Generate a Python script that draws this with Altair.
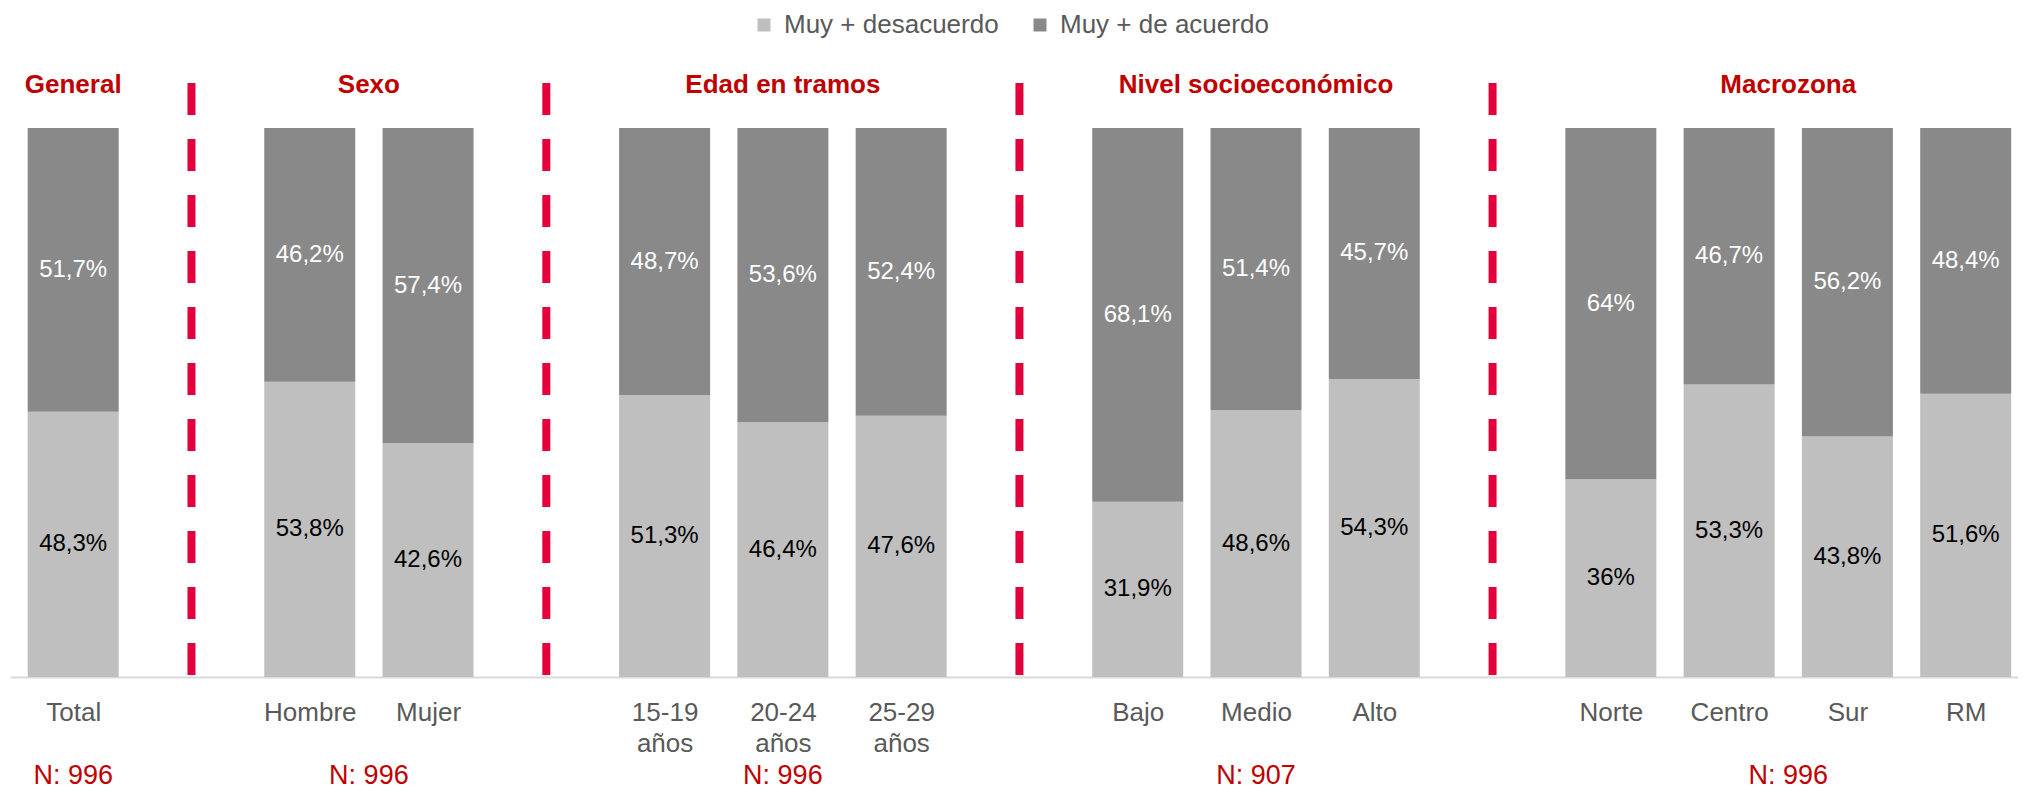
import altair as alt
import pandas as pd

# ---------------- data ----------------
group_names = ["General", "Sexo", "Edad en tramos", "Nivel socioeconómico", "Macrozona"]
group_n = ["N: 996", "N: 996", "N: 996", "N: 907", "N: 996"]
group_categories = [
    ["Total"],
    ["Hombre", "Mujer"],
    ["15-19\naños", "20-24\naños", "25-29\naños"],
    ["Bajo", "Medio", "Alto"],
    ["Norte", "Centro", "Sur", "RM"],
]
desacuerdo = [48.3, 53.8, 42.6, 51.3, 46.4, 47.6, 31.9, 48.6, 54.3, 36, 53.3, 43.8, 51.6]
acuerdo = [51.7, 46.2, 57.4, 48.7, 53.6, 52.4, 68.1, 51.4, 45.7, 64, 46.7, 56.2, 48.4]
series = ["Muy + desacuerdo", "Muy + de acuerdo"]
series_colors = ["#BFBFBF", "#898989"]

# ---------------- slots (one empty slot between groups for the dividers) ----------------
cat_rows, div_rows, grp_rows = [], [], []
slot = 0
k = 0
slot_labels = []
for gi, (gname, cats) in enumerate(zip(group_names, group_categories)):
    if gi > 0:
        div_rows.append({"slot": slot})
        slot_labels.append("")
        slot += 1
    first = slot
    for c in cats:
        cat_rows.append({"slot": slot, "cat": c, "desacuerdo": desacuerdo[k], "acuerdo": acuerdo[k]})
        slot_labels.append(c)
        slot += 1
        k += 1
    grp_rows.append({"slot": (first + slot - 1) / 2, "name": gname, "n": group_n[gi]})


def fmt(v):
    return f"{v:g}".replace(".", ",") + "%"


long_rows = []
for r in cat_rows:
    long_rows.append({"slot": r["slot"], "series": series[0], "order": 0, "value": r["desacuerdo"], "label": fmt(r["desacuerdo"])})
    long_rows.append({"slot": r["slot"], "series": series[1], "order": 1, "value": r["acuerdo"], "label": fmt(r["acuerdo"])})

df = pd.DataFrame(long_rows)
df_div = pd.DataFrame(div_rows)
df_grp = pd.DataFrame(grp_rows)

label_array = "[" + ",".join("'" + s.replace("\n", "\\n") + "'" for s in slot_labels) + "]"
label_expr = "split(" + label_array + "[datum.value], '\\n')"

FONT = "Liberation Sans"

x_enc = alt.X(
    "slot:Q",
    scale=alt.Scale(domain=[-0.492, 16.4], nice=False, zero=False),
    axis=alt.Axis(
        title=None,
        values=[r["slot"] for r in cat_rows],
        labelExpr=label_expr,
        grid=False,
        ticks=False,
        tickSize=0,
        domainColor="#D9D9D9",
        domainWidth=2,
        labelFont=FONT,
        labelFontSize=26,
        labelColor="#595959",
        labelLineHeight=31,
        labelPadding=22,
        labelOverlap=False,
        labelFlush=False,
        labelBound=False,
    ),
)

y_scale = alt.Scale(domain=[0, 100], nice=False)

bars = alt.Chart(df).mark_bar(width=91).encode(
    x=x_enc,
    y=alt.Y("value:Q", stack="zero", scale=y_scale, axis=None),
    order=alt.Order("order:Q"),
    color=alt.Color(
        "series:N",
        scale=alt.Scale(domain=series, range=series_colors),
        legend=alt.Legend(
            title=None,
            orient="none",
            direction="horizontal",
            legendX=741,
            legendY=-116,
            padding=0,
            symbolType="square",
            symbolSize=169,
            symbolStrokeWidth=0,
            labelFont=FONT,
            labelFontSize=26,
            labelColor="#595959",
            labelOffset=7,
            labelLimit=0,
            columnPadding=28,
        ),
    ),
)

labels = (
    alt.Chart(df)
    .transform_stack(stack="value", groupby=["slot"], as_=["v0", "v1"], sort=[alt.SortField("order")])
    .transform_calculate(mid="(datum.v0 + datum.v1) / 2")
    .mark_text(font=FONT, fontSize=24, baseline="middle", align="center")
    .encode(
        x=x_enc,
        y=alt.Y("mid:Q", scale=y_scale, axis=None),
        text="label:N",
        color=alt.condition(alt.datum.series == series[1], alt.value("#FFFFFF"), alt.value("#000000")),
    )
)

dividers = alt.Chart(df_div).mark_rule(
    color="#E4003B", strokeWidth=8, strokeDash=[32, 24], strokeCap="butt"
).encode(
    x=x_enc,
    y=alt.value(-45),
    y2=alt.value(547),
)

titles = alt.Chart(df_grp).mark_text(
    font=FONT, fontSize=26, fontWeight="bold", color="#C00000", baseline="alphabetic", align="center"
).encode(
    x=x_enc,
    y=alt.value(-35),
    text="name:N",
)

ns = alt.Chart(df_grp).mark_text(
    font=FONT, fontSize=27, color="#C00000", baseline="alphabetic", align="center"
).encode(
    x=x_enc,
    y=alt.value(656),
    text="n:N",
)

chart = (
    alt.layer(bars, labels, dividers, titles, ns)
    .properties(
        width=2008,
        height=549,
        padding={"left": 2, "top": 120, "right": 0, "bottom": 114},
        autosize=alt.AutoSizeParams(type="none"),
    )
    .configure_view(stroke=None)
)

chart.save("out.html", embed_options={"renderer": "svg", "actions": False})
